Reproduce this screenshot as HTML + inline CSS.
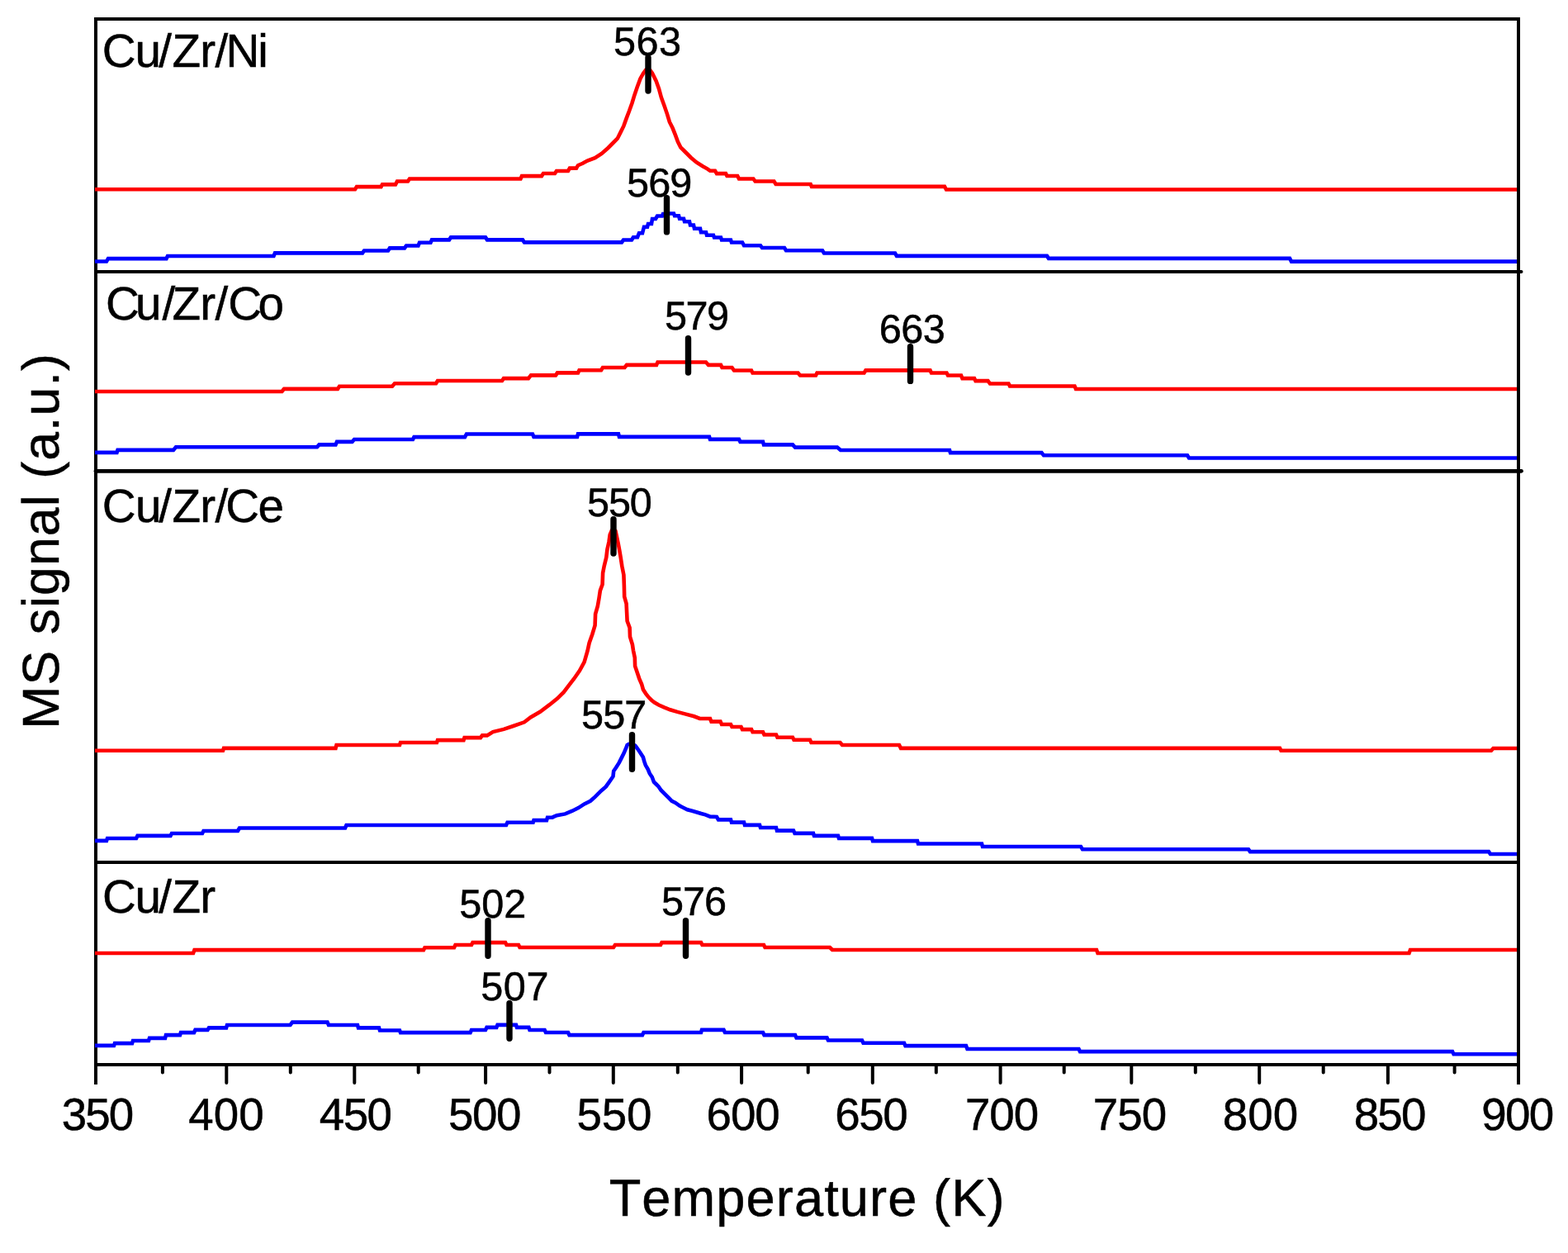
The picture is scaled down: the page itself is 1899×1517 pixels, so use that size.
<!DOCTYPE html><html><head><meta charset="utf-8"><title>MS signal vs Temperature</title><style>html,body{margin:0;padding:0;background:#fff;}svg{display:block;}text{font-family:"Liberation Sans",Arial,sans-serif;font-kerning:none;fill:#000;stroke:#000;stroke-width:0.5px;text-rendering:geometricPrecision;}</style></head><body>
<svg width="1899" height="1517" viewBox="0 0 1899 1517">
<rect width="1899" height="1517" fill="#fff"/>
<g stroke="#000" stroke-width="4" fill="none">
<path d="M116,22.9 H1839 M116,21 V1313 M1839,21 V1313 M114,1289 H1841"/>
<path d="M116,329 H1842.5" stroke-linecap="round"/>
<path d="M116,570.3 H1842.5" stroke-linecap="round" stroke-width="4.8"/>
<path d="M116,1044 H1839"/>
</g>
<path d="M196.90,1289 V1298.5 M274.30,1289 V1311 M351.80,1289 V1298.5 M429.30,1289 V1311 M506.70,1289 V1298.5 M588.10,1289 V1311 M665.50,1289 V1298.5 M742.80,1289 V1311 M820.80,1289 V1298.5 M898.10,1289 V1311 M978.70,1289 V1298.5 M1056.80,1289 V1311 M1133.80,1289 V1298.5 M1211.60,1289 V1311 M1288.70,1289 V1298.5 M1370.30,1289 V1311 M1447.80,1289 V1298.5 M1525.20,1289 V1311 M1602.70,1289 V1298.5 M1680.90,1289 V1311 M1761.60,1289 V1298.5" stroke="#000" stroke-width="4" stroke-linecap="round" fill="none"/>
<g fill="none" stroke-width="4.6" stroke-linejoin="miter" stroke-linecap="butt">
<polyline stroke="#ff0000" points="115,229.3 430,229.3 432,226.1 461.5,226.1 463,223.4 479,223.4 481,219.5 494,219.5 496,216.5 630.5,216.5 632,213.1 656,213.1 658,210 672,210 674,207 688,207 690,203.6 698,203.6 700,200.2 705.7,197.8 711.5,194.5 720.6,191.2 728.7,185.9 736.3,179.2 743,172.5 747.8,167.7 751.6,160.1 755.4,152.4 758.8,142.9 762.1,134.3 765.5,124.7 768.4,115.2 771.7,105.6 775.5,95.1 779.3,88.4 782.2,84.6 784.6,83.5 787,84.6 789.9,88.4 794.6,97.9 798,107.5 800.9,118 804.7,128.5 808,138.1 810.9,147.7 814.7,155.3 818.1,163.9 820.9,171.6 824.3,178.3 830,184 836.7,190.7 843.4,196.4 851,201.2 857,204.6 860,206.8 866,206.8 868,210.1 879,210.1 880.5,213 893.2,213 895,216.5 912.4,216.5 914.6,219.5 937.4,219.5 939.6,223 981.7,223 983,225.9 1144,225.9 1146,229.5 1837,229.5"/>
<polyline stroke="#0000ff" points="115,316.5 129,316.5 131,313.1 201.5,313.1 203,310 331.5,310 333,306.4 439,306.4 441,303.5 470,303.5 472,300.4 490,300.4 492,297.5 506.5,297.5 508,293.8 521.5,293.8 523,290.4 544,290.4 546,287.4 588,287.4 590,290.4 633,290.4 635,293.4 753,293.4 755,290.5 765,290.5 767,287.2 772,287.2 774,282.2 778,282.2 780,274.7 784,274.7 785,271 789,271 790,265 794,265 796,261.5 802,261.5 803,259 810,259 811,258.5 816,258.5 817,261.2 822,261.2 823,264.7 828,264.7 829,268.2 835,268.2 836,272.5 840,272.5 841,276.7 848,276.7 849,281.2 855,281.2 856,284.7 864,284.7 865,287.5 873,287.5 874,290.5 885,290.5 886,293.5 899,293.5 901,297.2 921,297.2 923,300 950,300 952,303.3 996,303.3 998,306.5 1084,306.5 1086,309.9 1268,309.9 1270,312.9 1562,312.9 1564,316.6 1837,316.6"/>
<polyline stroke="#ff0000" points="115,474 341.5,474 344,470.9 409,470.9 411,467.75 475,467.75 478,464.25 528,464.25 530,461 608,461 610,458.1 640,458.1 643,454.4 673,454.4 675,451.4 700,451.4 701.5,448.25 728,448.25 730,445 756.5,445 759,441.9 795,441.9 796.5,438.5 855,438.5 858,441.9 873,441.9 874.5,445 886.5,445 889,448.5 910,448.5 911.5,451.5 966.5,451.5 969,454.5 988,454.5 989.5,451.5 1046.5,451.5 1048.5,448.4 1126.5,448.4 1128,451.5 1146.5,451.5 1148,454.5 1164,454.5 1165.5,458.1 1180,458.1 1181.5,461.1 1196.5,461.1 1199,464.5 1221.5,464.5 1223,467.5 1301.5,467.5 1303,471 1837,471"/>
<polyline stroke="#0000ff" points="115,547.9 141.5,547.9 142.5,544.9 210,544.9 213,541.25 384,541.25 386.5,538.4 406.5,538.4 408,534.9 426.5,534.9 429,532 500,532 501.5,529.1 563,529.1 565,525.5 645,525.5 646.5,528.9 699,528.9 700,525.4 749,525.4 750,528.9 859,528.9 860,531.9 895,531.9 896.5,534.9 924,534.9 925,538.4 960,538.4 963,541.6 1014,541.6 1018,545 1150,545 1151,548.1 1261.5,548.1 1264,551.3 1438,551.3 1440,554.5 1837,554.5"/>
<polyline stroke="#ff0000" points="115,908.75 270,908.75 271,905.9 406.5,905.9 407.5,902 484,902 485,899 529,899 530,896.1 561.5,896.1 562.5,893.1 582,893.1 584,890.4 590,890.4 597,886.1 610.1,882.9 621.6,879 635,874.3 642.6,868.5 654.1,861.8 665.6,853.2 675.1,845.6 682.8,837.9 688.5,830.3 695.2,821.7 701.9,812.1 707.6,801.6 711.5,788.2 713.7,778.2 717.4,767.7 720.6,757.1 721.1,743.4 723.8,733.9 725.3,725.5 726.9,714.9 729.6,707.6 730.1,693.8 731.7,685.4 734.3,674.9 735.4,665.4 737.5,655.9 738.7,647.4 741,642 743,640.5 745.5,643 748.5,656.9 750.1,665.4 751.7,674.9 753.3,685.4 755.4,696 755.9,709.7 756.2,722.3 758.6,730.8 759.1,741.3 759.6,751.9 762.6,760 763,770.9 765.9,780.3 767,787.6 768.8,796.3 769.1,806.4 772,815.1 774.2,821.6 777.1,828.2 778.9,834.7 782.2,839.8 785.5,844.1 789.1,847.7 792.7,850.6 797.8,853.5 804.3,856.4 811.6,859.3 820.3,861.9 829.7,864.4 840.6,867.3 847.5,870 860,870 861.5,873.6 872.5,873.6 874,877 885,877 886.5,880 897.5,880 899,883.1 910,883.1 911.5,886.25 924,886.25 925.5,889.5 940,889.5 941.5,892.75 960,892.75 961.5,895.75 981,895.75 982.5,899 1017.5,899 1020,902 1089,902 1091,905.9 1550,905.9 1551.5,908.8 1806,908.8 1808.5,906 1837,906"/>
<polyline stroke="#0000ff" points="115,1017.9 129,1017.9 130,1015 165,1015 166.5,1011.9 206.5,1011.9 208,1009 245,1009 246.5,1006 288,1006 290,1002.5 418,1002.5 419.5,999 613,999 614.5,995.8 645.6,995.8 646.5,993.1 662,993.1 663,989.8 669,989.8 670,989 674.4,987.2 684.5,985.4 693.2,981.7 700.5,978.1 707.7,973.4 715,969.8 720.8,964.7 728,957.4 733.8,952.4 737.4,947.3 742.5,940 743.2,933.5 746.1,929.2 749.8,923.4 752.7,917.6 755.6,911.8 758.1,906 759.6,902 761.4,900.9 765,900.3 769.4,902.7 772,906.3 775.2,911 778.9,916.8 780.3,921.9 781.8,926.3 784.7,931.3 786.8,936.4 789.7,940.8 791.9,946.6 794.8,949.5 797.7,952.4 800.6,956.7 805,961.1 809.3,965.4 813.7,969.8 818,971.9 823.1,975.6 827.4,977.7 832.5,980.3 838.3,981.7 843.4,983.2 849.2,985 854.3,986.4 860,988.6 868,989 870,992.4 885,992.4 886,995.6 901,995.6 902,998.9 920,998.9 921,1002 940,1002 941,1005.6 961,1005.6 962.5,1008.9 985,1008.9 986,1011.9 1015,1011.9 1016,1014.9 1056,1014.9 1057,1018.1 1111,1018.1 1112,1021.5 1189,1021.5 1190,1025 1309,1025 1311,1028.2 1512,1028.2 1514,1031.1 1803,1031.1 1805,1034 1837,1034"/>
<polyline stroke="#ff0000" points="115,1154 234,1154 235.5,1150.1 513,1150.1 514.5,1147.2 550,1147.2 551.5,1144 571,1144 572.5,1141.1 612,1141.1 613.5,1144 628,1144 629.5,1147 743,1147 745,1144 800,1144 801.5,1141.1 849,1141.1 850.5,1144 925,1144 926.5,1147 1005,1147 1008,1150 1328,1150 1329.5,1154 1706.5,1154 1708,1150 1837,1150"/>
<polyline stroke="#0000ff" points="115,1265.9 138,1265.9 139,1263.1 160,1263.1 161,1260 180,1260 181,1256.9 200,1256.9 201,1253.1 218,1253.1 219,1250.1 235,1250.1 236.5,1246.9 251.5,1246.9 253,1244.4 274,1244.4 275,1241 351.5,1241 354,1237.6 396.5,1237.6 398,1241 433,1241 434,1244.4 459,1244.4 460,1247.5 484,1247.5 485,1250.1 569.6,1250.1 571,1247 588,1247 589.5,1243.9 601.3,1243.9 602.5,1240.9 625,1240.9 626,1243.9 640.4,1243.9 641.5,1247 659.6,1247 661,1250 688,1250 689.5,1253.1 778,1253.1 779.5,1250 849,1250 850,1246.9 876.5,1246.9 878,1250 924,1250 925.5,1253.1 963,1253.1 964.5,1256.4 1001.5,1256.4 1003,1259.5 1044,1259.5 1045.5,1262.7 1095,1262.7 1096.5,1266.1 1170,1266.1 1171.5,1270 1306.5,1270 1308,1273.1 1759,1273.1 1760.5,1276.2 1837,1276.2"/>
</g>
<path d="M785,69.70 V110.00 M807.5,239.60 V280.90 M833.5,409.80 V451.10 M1102.5,419.80 V461.40 M743,628.80 V670.10 M765.5,889.60 V931.20 M591,1114.80 V1157.20 M830.5,1114.80 V1157.20 M617,1214.80 V1257.20" stroke="#000" stroke-width="7.4" stroke-linecap="round" fill="none"/>
<text x="123.63 163.55 192.31 208.60 242.31 260.62 273.48 312.29" y="80.98" style="font-size:56.6px">Cu/Zr/Ni</text>
<text x="127.88 163.96 196.41 208.60 242.31 260.62 276.18 312.57" y="386.98" style="font-size:56.6px">Cu/Zr/Co</text>
<text x="123.63 163.96 192.31 208.60 242.31 260.62 273.32 312.59" y="632.03" style="font-size:56.6px">Cu/Zr/Ce</text>
<text x="123.98 163.55 192.31 208.60 242.31" y="1105.04" style="font-size:56.6px">Cu/Zr</text>
<text x="737.68" y="1471.85" style="font-size:63.218px;letter-spacing:1.088px">Temperature (K)</text>
<text x="743.08" y="66.99" style="font-size:48.6px;letter-spacing:0.402px">563</text>
<text x="759.08" y="238.17" style="font-size:48.6px;letter-spacing:-0.884px">569</text>
<text x="805.08" y="399.07" style="font-size:48.6px;letter-spacing:-1.58px">579</text>
<text x="1064.64" y="414.88" style="font-size:48.6px;letter-spacing:-0.418px">663</text>
<text x="711.08" y="625.17" style="font-size:48.6px;letter-spacing:-1.206px">550</text>
<text x="704.08" y="882.17" style="font-size:48.6px;letter-spacing:-0.945px">557</text>
<text x="556.28" y="1111.07" style="font-size:48.6px;letter-spacing:-0.061px">502</text>
<text x="801.08" y="1108.17" style="font-size:48.6px;letter-spacing:-1.004px">576</text>
<text x="582.18" y="1211.07" style="font-size:48.6px;letter-spacing:0.603px">507</text>
<text x="74.71" y="1368.22" style="font-size:54.7px;letter-spacing:-1.933px">350</text>
<text x="228.37" y="1368.27" style="font-size:54.7px;letter-spacing:-0.004px">400</text>
<text x="386.87" y="1368.27" style="font-size:54.7px;letter-spacing:-1.628px">450</text>
<text x="543.05" y="1368.27" style="font-size:54.7px;letter-spacing:-1.49px">500</text>
<text x="698.55" y="1368.27" style="font-size:54.7px;letter-spacing:-0.225px">550</text>
<text x="855.55" y="1368.27" style="font-size:54.7px;letter-spacing:-1.019px">600</text>
<text x="1011.15" y="1368.27" style="font-size:54.7px;letter-spacing:-1.394px">650</text>
<text x="1169.06" y="1368.27" style="font-size:54.7px;letter-spacing:-1.113px">700</text>
<text x="1323.76" y="1368.27" style="font-size:54.7px;letter-spacing:-0.871px">750</text>
<text x="1480.78" y="1368.27" style="font-size:54.7px;letter-spacing:0.069px">800</text>
<text x="1639.68" y="1368.27" style="font-size:54.7px;letter-spacing:-1.733px">850</text>
<text x="1794.3" y="1368.24" style="font-size:54.7px;letter-spacing:-1.649px">900</text>
<text transform="translate(70.55,882.77) rotate(-90)" style="font-size:62.546px;letter-spacing:1.107px">MS signal (a.u.)</text>
</svg></body></html>
